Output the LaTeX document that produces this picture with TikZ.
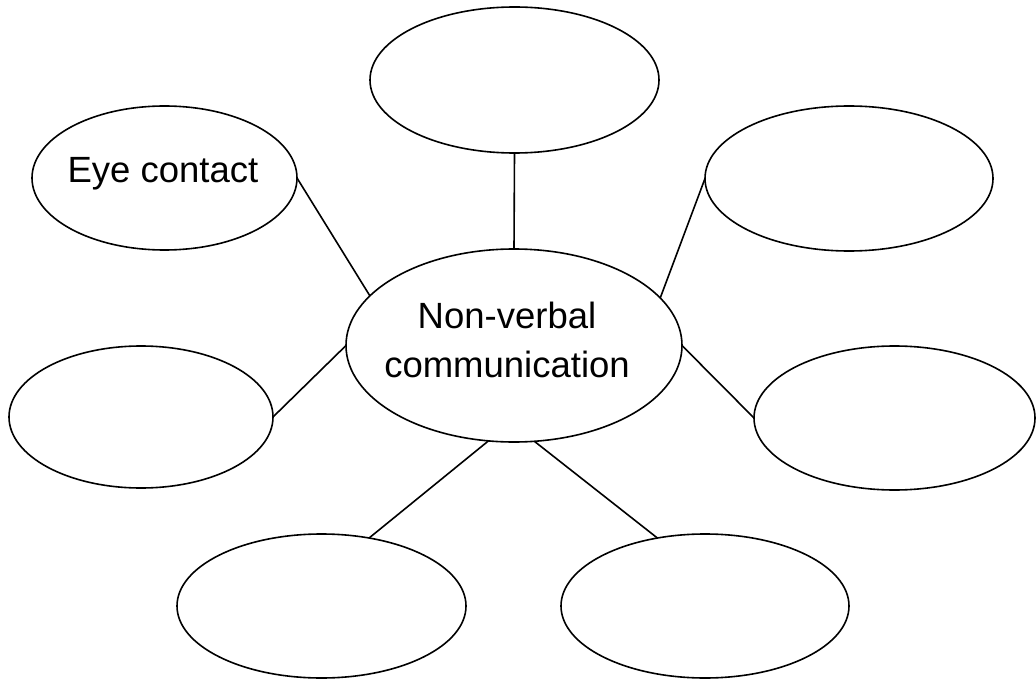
\documentclass[tikz,border=0pt]{standalone}
\usepackage{fontspec}
\setmainfont{Liberation Sans}
\usetikzlibrary{shapes.geometric}
\begin{document}
\begin{tikzpicture}[x=1pt,y=-1pt,
  bubble/.style={draw=black,line width=1.6pt,ellipse,inner sep=0pt,outer sep=0pt},
  txt/.style={anchor=base,inner sep=0pt,font=\fontsize{36.5pt}{49pt}\selectfont},
  link/.style={draw=black,line width=1.6pt}]
\useasboundingbox (0,0) rectangle (1036,679);
\node[bubble,minimum width=336pt,minimum height=193pt] (c) at (514,345.5) {};
\node[bubble,minimum width=289pt,minimum height=146pt] (top) at (514.5,80) {};
\node[bubble,minimum width=265pt,minimum height=144pt] (eye) at (164.5,178) {};
\node[bubble,minimum width=288pt,minimum height=145pt] (tr) at (849,178.5) {};
\node[bubble,minimum width=264pt,minimum height=142pt] (l) at (141,417) {};
\node[bubble,minimum width=281pt,minimum height=144pt] (r) at (894.5,418) {};
\node[bubble,minimum width=289pt,minimum height=144pt] (bl) at (321.5,606) {};
\node[bubble,minimum width=288pt,minimum height=144pt] (br) at (705,606) {};
\node[txt] (nv1) at (507,328) {Non-verbal};
\node[txt] (nv2) at (507,377) {communication};
\node[txt] (eyet) at (163,183) {Eye contact};
\draw[link] (top.south) -- (c.north);
\draw[link] (eye.east) -- (c.161.6);
\draw[link] (l.east) -- (c.west);
\draw[link] (tr.west) -- (c.18.6);
\draw[link] (r.west) -- (c.east);
\draw[link] (bl.55) -- (c.255.5);
\draw[link] (br.125.8) -- (c.282.8);
\end{tikzpicture}
\end{document}
